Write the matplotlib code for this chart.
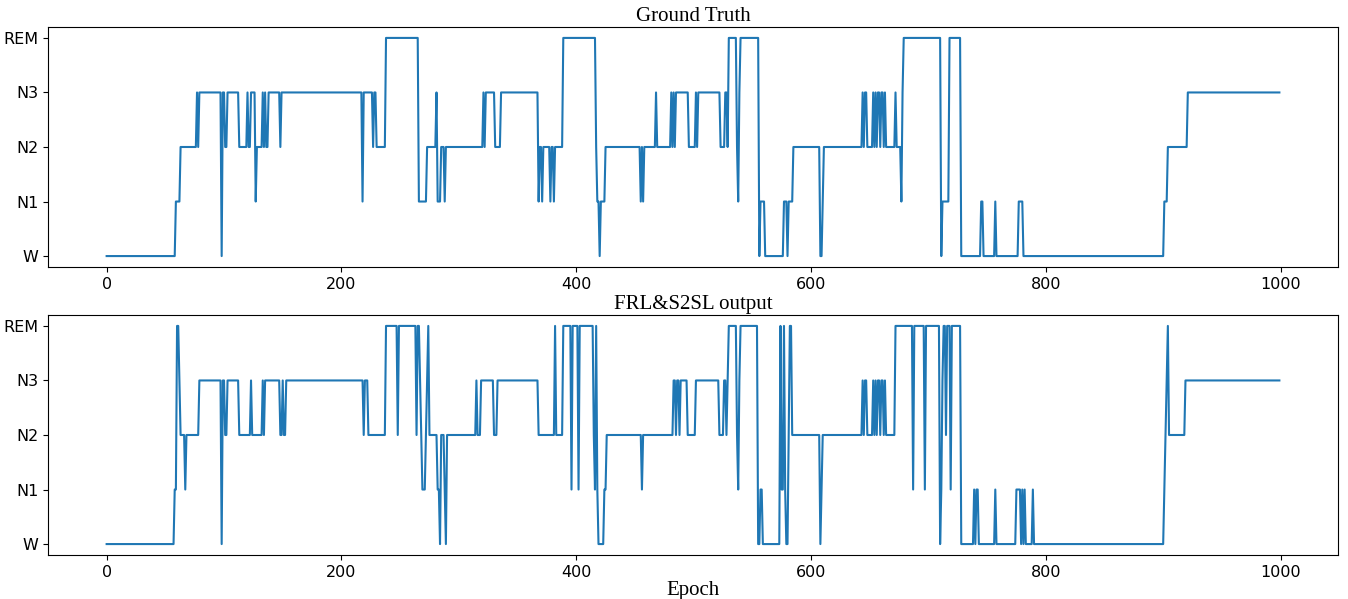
import numpy as np
import matplotlib
matplotlib.use("Agg")
import matplotlib.pyplot as plt

# Sleep stage codes: 0=W, 1=N1, 2=N2, 3=N3, 4=REM
stage_labels = ["W", "N1", "N2", "N3", "REM"]
n_epochs = 1000

# Ground truth: run start epochs and stage of each run
gt_starts = [0, 59, 63, 77, 78, 79, 98, 99, 101, 103, 113, 120, 121, 123, 127, 128,
             133, 134, 135, 136, 138, 148, 149, 218, 219, 227, 228, 230, 238, 266,
             273, 281, 282, 285, 288, 289, 321, 322, 323, 331, 336, 368, 369, 371,
             372, 378, 379, 381, 382, 389, 417, 418, 420, 421, 425, 455, 456, 457,
             458, 468, 469, 481, 482, 483, 484, 485, 496, 502, 503, 504, 523, 527,
             529, 530, 537, 538, 539, 540, 556, 557, 561, 577, 580, 581, 585, 608,
             610, 611, 644, 645, 646, 648, 653, 654, 655, 656, 657, 659, 660, 662,
             663, 664, 672, 673, 677, 678, 679, 711, 712, 718, 728, 745, 747, 757,
             758, 777, 781, 901, 904, 921]
gt_stages = [0, 1, 2, 3, 2, 3, 0, 3, 2, 3, 2, 3, 2, 3, 1, 2,
             3, 2, 3, 2, 3, 2, 3, 1, 3, 2, 3, 2, 4, 1,
             2, 3, 1, 2, 1, 2, 3, 2, 3, 2, 3, 1, 2, 1,
             2, 1, 2, 1, 2, 4, 2, 1, 0, 1, 2, 1, 2, 1,
             2, 3, 2, 3, 2, 3, 2, 3, 2, 3, 2, 3, 2, 3,
             2, 4, 2, 1, 3, 4, 0, 1, 0, 1, 0, 1, 2, 0,
             1, 2, 3, 2, 3, 2, 3, 2, 3, 2, 3, 2, 3, 2,
             3, 2, 3, 2, 1, 3, 4, 0, 1, 4, 0, 1, 0, 1,
             0, 1, 0, 1, 2, 3]

# FRL&S2SL output: run start epochs and stage of each run
pred_starts = [0, 58, 60, 62, 63, 67, 68, 79, 98, 99, 101, 103, 113, 123, 124, 133,
               134, 135, 148, 150, 151, 153, 219, 220, 223, 238, 248, 249, 264, 265,
               267, 268, 269, 272, 273, 274, 275, 282, 284, 285, 288, 289, 290, 315,
               316, 319, 330, 333, 368, 382, 383, 389, 396, 397, 402, 403, 415, 416,
               417, 418, 419, 424, 426, 456, 457, 483, 485, 486, 488, 489, 495, 502,
               522, 526, 528, 529, 530, 537, 538, 539, 540, 555, 557, 559, 574, 575,
               577, 578, 579, 581, 582, 584, 608, 609, 610, 644, 645, 646, 648, 653,
               654, 655, 656, 657, 659, 660, 662, 663, 664, 672, 687, 688, 697, 698,
               710, 711, 712, 713, 715, 716, 719, 720, 728, 739, 740, 741, 743, 757,
               758, 775, 779, 780, 781, 782, 783, 789, 790, 901, 902, 903, 904, 905,
               919]
pred_stages = [0, 1, 4, 3, 2, 1, 2, 3, 0, 3, 2, 3, 2, 3, 2, 3,
               2, 3, 2, 3, 2, 3, 2, 3, 2, 4, 2, 4, 2, 4,
               3, 2, 1, 2, 3, 4, 2, 1, 0, 2, 1, 0, 2, 3,
               2, 3, 2, 3, 2, 4, 2, 4, 1, 4, 1, 4, 2, 1,
               4, 1, 0, 1, 2, 1, 2, 3, 2, 3, 2, 3, 2, 3,
               2, 3, 2, 3, 4, 2, 1, 3, 4, 0, 1, 0, 4, 1,
               4, 1, 0, 2, 4, 2, 0, 1, 2, 3, 2, 3, 2, 3,
               2, 3, 2, 3, 2, 3, 2, 3, 2, 4, 1, 4, 1, 4,
               0, 1, 3, 4, 2, 4, 1, 4, 0, 1, 0, 1, 0, 1,
               0, 1, 0, 1, 0, 1, 0, 1, 0, 1, 2, 3, 4, 2,
               3]


def expand(starts, stages, n):
    lengths = np.diff(list(starts) + [n])
    return np.repeat(stages, lengths)


gt = expand(gt_starts, gt_stages, n_epochs)
pred = expand(pred_starts, pred_stages, n_epochs)
epochs = np.arange(n_epochs)

fig = plt.figure(figsize=(13.48, 5.99), dpi=100)
ax1 = fig.add_axes([0.0356, 0.5543, 0.957, 0.4006])
ax2 = fig.add_axes([0.0356, 0.0735, 0.957, 0.4006])

serif = ["Liberation Serif", "DejaVu Serif"]
for ax, data, title in [(ax1, gt, "Ground Truth"), (ax2, pred, "FRL&S2SL output")]:
    ax.plot(epochs, data, color="#1f77b4", linewidth=1.5)
    ax.set_yticks(range(5))
    ax.set_yticklabels(stage_labels)
    ax.set_xticks([0, 200, 400, 600, 800, 1000])
    ax.tick_params(labelsize=11.5)
    ax.set_title(title, family=serif, fontsize=15, pad=4)

ax2.set_xlabel("Epoch", family=serif, fontsize=15, labelpad=1)

fig.savefig("out.png", dpi=100)
